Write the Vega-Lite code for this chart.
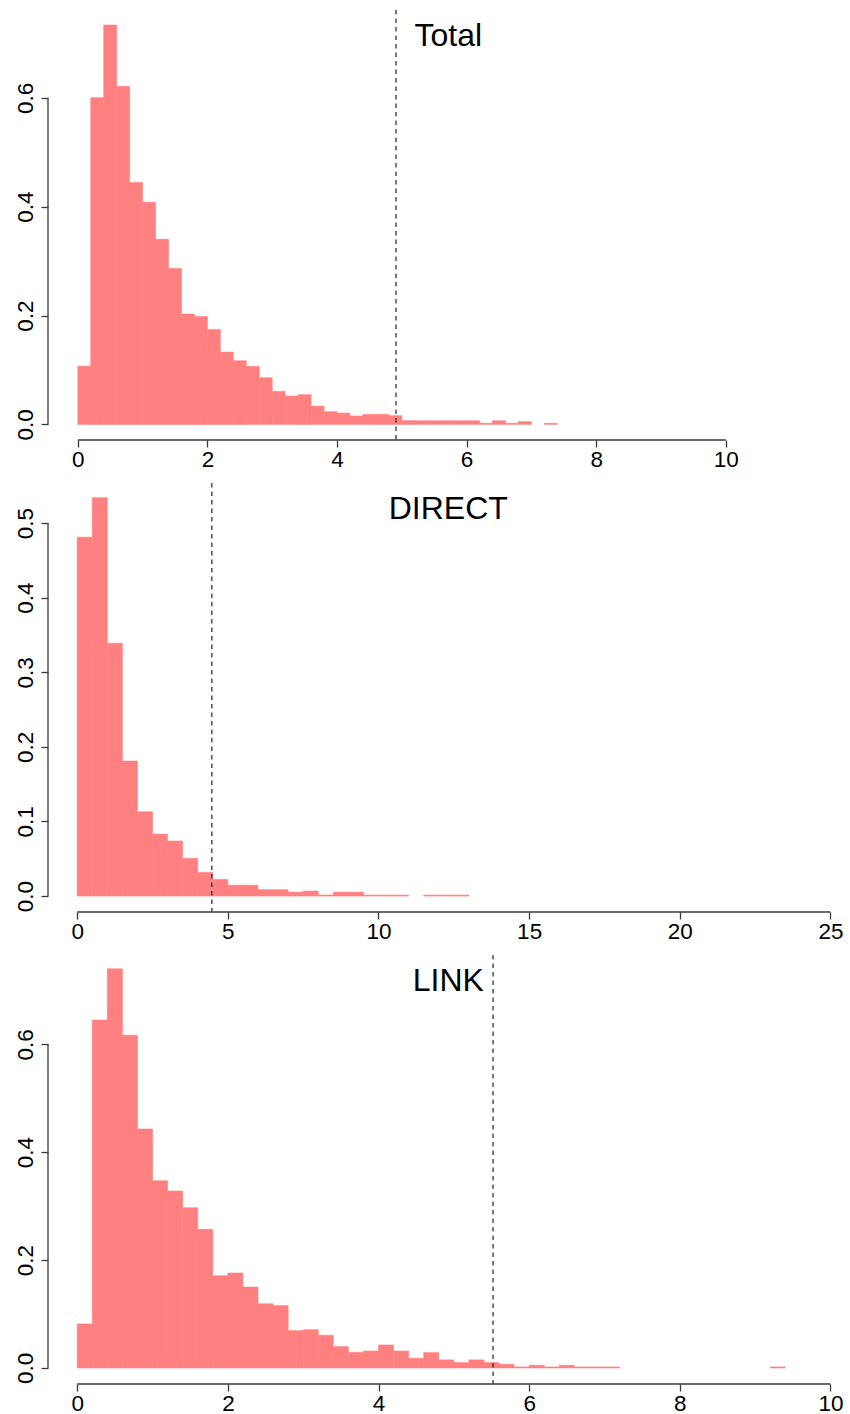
{
  "$schema": "https://vega.github.io/schema/vega-lite/v6.json",
  "background": "white",
  "padding": {"left": 14, "top": 9, "right": 0, "bottom": 0},
  "spacing": 43,
  "bounds": "flush",
  "config": {
    "view": {"stroke": null},
    "font": "Liberation Sans",
    "axis": {"domain": false, "grid": false, "ticks": true, "tickSize": 7, "tickColor": "#3a3a3a", "tickWidth": 1.3, "labelFont": "Liberation Sans", "labelFontSize": 22.5, "labelColor": "#000000", "labelFlush": false, "labelOverlap": false},
    "axisX": {"labelBaseline": "alphabetic", "labelPadding": 19, "labelAlign": "center", "labelAngle": 0},
    "axisY": {"labelAngle": -90, "labelAlign": "center", "labelBaseline": "alphabetic", "labelPadding": 9},
    "title": {"font": "Liberation Sans", "fontSize": 32, "fontWeight": "normal", "color": "#000000", "anchor": "middle", "baseline": "alphabetic", "offset": -44}
  },
  "datasets": {
    "total": [
      {"bin_start": 0.0, "bin_end": 0.2, "density": 0.107},
      {"bin_start": 0.2, "bin_end": 0.4, "density": 0.600},
      {"bin_start": 0.4, "bin_end": 0.6, "density": 0.7335},
      {"bin_start": 0.6, "bin_end": 0.8, "density": 0.621},
      {"bin_start": 0.8, "bin_end": 1.0, "density": 0.4445},
      {"bin_start": 1.0, "bin_end": 1.2, "density": 0.408},
      {"bin_start": 1.2, "bin_end": 1.4, "density": 0.340},
      {"bin_start": 1.4, "bin_end": 1.6, "density": 0.2865},
      {"bin_start": 1.6, "bin_end": 1.8, "density": 0.2026},
      {"bin_start": 1.8, "bin_end": 2.0, "density": 0.198},
      {"bin_start": 2.0, "bin_end": 2.2, "density": 0.1745},
      {"bin_start": 2.2, "bin_end": 2.4, "density": 0.1328},
      {"bin_start": 2.4, "bin_end": 2.6, "density": 0.117},
      {"bin_start": 2.6, "bin_end": 2.8, "density": 0.1066},
      {"bin_start": 2.8, "bin_end": 3.0, "density": 0.0857},
      {"bin_start": 3.0, "bin_end": 3.2, "density": 0.0606},
      {"bin_start": 3.2, "bin_end": 3.4, "density": 0.052},
      {"bin_start": 3.4, "bin_end": 3.6, "density": 0.0545},
      {"bin_start": 3.6, "bin_end": 3.8, "density": 0.0335},
      {"bin_start": 3.8, "bin_end": 4.0, "density": 0.0233},
      {"bin_start": 4.0, "bin_end": 4.2, "density": 0.0208},
      {"bin_start": 4.2, "bin_end": 4.4, "density": 0.0153},
      {"bin_start": 4.4, "bin_end": 4.6, "density": 0.0184},
      {"bin_start": 4.6, "bin_end": 4.8, "density": 0.0184},
      {"bin_start": 4.8, "bin_end": 5.0, "density": 0.016},
      {"bin_start": 5.0, "bin_end": 5.2, "density": 0.007},
      {"bin_start": 5.2, "bin_end": 5.4, "density": 0.0067},
      {"bin_start": 5.4, "bin_end": 5.6, "density": 0.0067},
      {"bin_start": 5.6, "bin_end": 5.8, "density": 0.0067},
      {"bin_start": 5.8, "bin_end": 6.0, "density": 0.0067},
      {"bin_start": 6.0, "bin_end": 6.2, "density": 0.0067},
      {"bin_start": 6.2, "bin_end": 6.4, "density": 0.002},
      {"bin_start": 6.4, "bin_end": 6.6, "density": 0.0067},
      {"bin_start": 6.6, "bin_end": 6.8, "density": 0.002},
      {"bin_start": 6.8, "bin_end": 7.0, "density": 0.005},
      {"bin_start": 7.2, "bin_end": 7.4, "density": 0.002}
    ],
    "direct": [
      {"bin_start": 0.0, "bin_end": 0.5, "density": 0.481},
      {"bin_start": 0.5, "bin_end": 1.0, "density": 0.534},
      {"bin_start": 1.0, "bin_end": 1.5, "density": 0.339},
      {"bin_start": 1.5, "bin_end": 2.0, "density": 0.181},
      {"bin_start": 2.0, "bin_end": 2.5, "density": 0.113},
      {"bin_start": 2.5, "bin_end": 3.0, "density": 0.083},
      {"bin_start": 3.0, "bin_end": 3.5, "density": 0.0737},
      {"bin_start": 3.5, "bin_end": 4.0, "density": 0.0505},
      {"bin_start": 4.0, "bin_end": 4.5, "density": 0.0317},
      {"bin_start": 4.5, "bin_end": 5.0, "density": 0.0223},
      {"bin_start": 5.0, "bin_end": 5.5, "density": 0.0145},
      {"bin_start": 5.5, "bin_end": 6.0, "density": 0.0145},
      {"bin_start": 6.0, "bin_end": 6.5, "density": 0.0085},
      {"bin_start": 6.5, "bin_end": 7.0, "density": 0.0085},
      {"bin_start": 7.0, "bin_end": 7.5, "density": 0.0052},
      {"bin_start": 7.5, "bin_end": 8.0, "density": 0.0067},
      {"bin_start": 8.0, "bin_end": 8.5, "density": 0.0013},
      {"bin_start": 8.5, "bin_end": 9.0, "density": 0.0052},
      {"bin_start": 9.0, "bin_end": 9.5, "density": 0.0052},
      {"bin_start": 9.5, "bin_end": 10.0, "density": 0.0013},
      {"bin_start": 10.0, "bin_end": 10.5, "density": 0.0013},
      {"bin_start": 10.5, "bin_end": 11.0, "density": 0.0013},
      {"bin_start": 11.5, "bin_end": 12.0, "density": 0.0013},
      {"bin_start": 12.0, "bin_end": 12.5, "density": 0.0013},
      {"bin_start": 12.5, "bin_end": 13.0, "density": 0.0013}
    ],
    "link": [
      {"bin_start": 0.0, "bin_end": 0.2, "density": 0.0816},
      {"bin_start": 0.2, "bin_end": 0.4, "density": 0.645},
      {"bin_start": 0.4, "bin_end": 0.6, "density": 0.740},
      {"bin_start": 0.6, "bin_end": 0.8, "density": 0.617},
      {"bin_start": 0.8, "bin_end": 1.0, "density": 0.443},
      {"bin_start": 1.0, "bin_end": 1.2, "density": 0.347},
      {"bin_start": 1.2, "bin_end": 1.4, "density": 0.328},
      {"bin_start": 1.4, "bin_end": 1.6, "density": 0.297},
      {"bin_start": 1.6, "bin_end": 1.8, "density": 0.257},
      {"bin_start": 1.8, "bin_end": 2.0, "density": 0.171},
      {"bin_start": 2.0, "bin_end": 2.2, "density": 0.176},
      {"bin_start": 2.2, "bin_end": 2.4, "density": 0.150},
      {"bin_start": 2.4, "bin_end": 2.6, "density": 0.119},
      {"bin_start": 2.6, "bin_end": 2.8, "density": 0.1156},
      {"bin_start": 2.8, "bin_end": 3.0, "density": 0.0692},
      {"bin_start": 3.0, "bin_end": 3.2, "density": 0.0711},
      {"bin_start": 3.2, "bin_end": 3.4, "density": 0.0606},
      {"bin_start": 3.4, "bin_end": 3.6, "density": 0.0396},
      {"bin_start": 3.6, "bin_end": 3.8, "density": 0.029},
      {"bin_start": 3.8, "bin_end": 4.0, "density": 0.0315},
      {"bin_start": 4.0, "bin_end": 4.2, "density": 0.0426},
      {"bin_start": 4.2, "bin_end": 4.4, "density": 0.0315},
      {"bin_start": 4.4, "bin_end": 4.6, "density": 0.018},
      {"bin_start": 4.6, "bin_end": 4.8, "density": 0.0285},
      {"bin_start": 4.8, "bin_end": 5.0, "density": 0.015},
      {"bin_start": 5.0, "bin_end": 5.2, "density": 0.010},
      {"bin_start": 5.2, "bin_end": 5.4, "density": 0.015},
      {"bin_start": 5.4, "bin_end": 5.6, "density": 0.010},
      {"bin_start": 5.6, "bin_end": 5.8, "density": 0.0068},
      {"bin_start": 5.8, "bin_end": 6.0, "density": 0.0019},
      {"bin_start": 6.0, "bin_end": 6.2, "density": 0.005},
      {"bin_start": 6.2, "bin_end": 6.4, "density": 0.0019},
      {"bin_start": 6.4, "bin_end": 6.6, "density": 0.005},
      {"bin_start": 6.6, "bin_end": 6.8, "density": 0.0019},
      {"bin_start": 6.8, "bin_end": 7.0, "density": 0.0019},
      {"bin_start": 7.0, "bin_end": 7.2, "density": 0.0019},
      {"bin_start": 9.2, "bin_end": 9.4, "density": 0.0019}
    ]
  },
  "vconcat": [
    {
      "width": 800.5,
      "height": 430,
      "title": "Total",
      "layer": [
        {
          "data": {"name": "total"},
          "mark": {"type": "bar", "color": "#FF8080", "stroke": "#FF8080", "strokeWidth": 0.6},
          "encoding": {
            "x": {"field": "bin_start", "type": "quantitative", "title": null, "scale": {"domain": [-0.46, 11.893], "nice": false, "zero": false}, "axis": {"values": [0, 2, 4, 6, 8, 10], "format": "d"}},
            "x2": {"field": "bin_end"},
            "y": {"field": "density", "type": "quantitative", "title": null, "scale": {"domain": [-0.0287, 0.7612], "nice": false, "zero": false}, "axis": {"values": [0, 0.2, 0.4, 0.6], "format": ".1f"}},
            "y2": {"datum": 0}
          }
        },
        {
          "data": {"values": [{"cutoff": 4.91}]},
          "mark": {"type": "rule", "color": "#222222", "strokeWidth": 1.2, "strokeDash": [4.5, 4]},
          "encoding": {"x": {"field": "cutoff", "type": "quantitative", "title": null}}
        },
        {
          "data": {"values": [{}]},
          "mark": {"type": "rule", "color": "#3a3a3a", "strokeWidth": 1.3},
          "encoding": {"x": {"datum": 0, "title": null}, "x2": {"datum": 10}, "y": {"datum": -0.0287, "title": null}}
        },
        {
          "data": {"values": [{}]},
          "mark": {"type": "rule", "color": "#3a3a3a", "strokeWidth": 1.3},
          "encoding": {"x": {"datum": -0.46, "title": null}, "y": {"datum": 0, "title": null}, "y2": {"datum": 0.6}}
        }
      ]
    },
    {
      "width": 800.5,
      "height": 429,
      "title": "DIRECT",
      "layer": [
        {
          "data": {"name": "direct"},
          "mark": {"type": "bar", "color": "#FF8080", "stroke": "#FF8080", "strokeWidth": 0.6},
          "encoding": {
            "x": {"field": "bin_start", "type": "quantitative", "title": null, "scale": {"domain": [-0.969, 25.6], "nice": false, "zero": false}, "axis": {"values": [0, 5, 10, 15, 20, 25], "format": "d"}},
            "x2": {"field": "bin_end"},
            "y": {"field": "density", "type": "quantitative", "title": null, "scale": {"domain": [-0.0214, 0.5537], "nice": false, "zero": false}, "axis": {"values": [0, 0.1, 0.2, 0.3, 0.4, 0.5], "format": ".1f"}},
            "y2": {"datum": 0}
          }
        },
        {
          "data": {"values": [{"cutoff": 4.47}]},
          "mark": {"type": "rule", "color": "#222222", "strokeWidth": 1.2, "strokeDash": [4.5, 4]},
          "encoding": {"x": {"field": "cutoff", "type": "quantitative", "title": null}}
        },
        {
          "data": {"values": [{}]},
          "mark": {"type": "rule", "color": "#3a3a3a", "strokeWidth": 1.3},
          "encoding": {"x": {"datum": 0, "title": null}, "x2": {"datum": 25}, "y": {"datum": -0.0214, "title": null}}
        },
        {
          "data": {"values": [{}]},
          "mark": {"type": "rule", "color": "#3a3a3a", "strokeWidth": 1.3},
          "encoding": {"x": {"datum": -0.969, "title": null}, "y": {"datum": 0, "title": null}, "y2": {"datum": 0.5}}
        }
      ]
    },
    {
      "width": 800.5,
      "height": 429,
      "title": "LINK",
      "layer": [
        {
          "data": {"name": "link"},
          "mark": {"type": "bar", "color": "#FF8080", "stroke": "#FF8080", "strokeWidth": 0.6},
          "encoding": {
            "x": {"field": "bin_start", "type": "quantitative", "title": null, "scale": {"domain": [-0.388, 10.239], "nice": false, "zero": false}, "axis": {"values": [0, 2, 4, 6, 8, 10], "format": "d"}},
            "x2": {"field": "bin_end"},
            "y": {"field": "density", "type": "quantitative", "title": null, "scale": {"domain": [-0.0297, 0.7656], "nice": false, "zero": false}, "axis": {"values": [0, 0.2, 0.4, 0.6], "format": ".1f"}},
            "y2": {"datum": 0}
          }
        },
        {
          "data": {"values": [{"cutoff": 5.52}]},
          "mark": {"type": "rule", "color": "#222222", "strokeWidth": 1.2, "strokeDash": [4.5, 4]},
          "encoding": {"x": {"field": "cutoff", "type": "quantitative", "title": null}}
        },
        {
          "data": {"values": [{}]},
          "mark": {"type": "rule", "color": "#3a3a3a", "strokeWidth": 1.3},
          "encoding": {"x": {"datum": 0, "title": null}, "x2": {"datum": 10}, "y": {"datum": -0.0297, "title": null}}
        },
        {
          "data": {"values": [{}]},
          "mark": {"type": "rule", "color": "#3a3a3a", "strokeWidth": 1.3},
          "encoding": {"x": {"datum": -0.388, "title": null}, "y": {"datum": 0, "title": null}, "y2": {"datum": 0.6}}
        }
      ]
    }
  ]
}
